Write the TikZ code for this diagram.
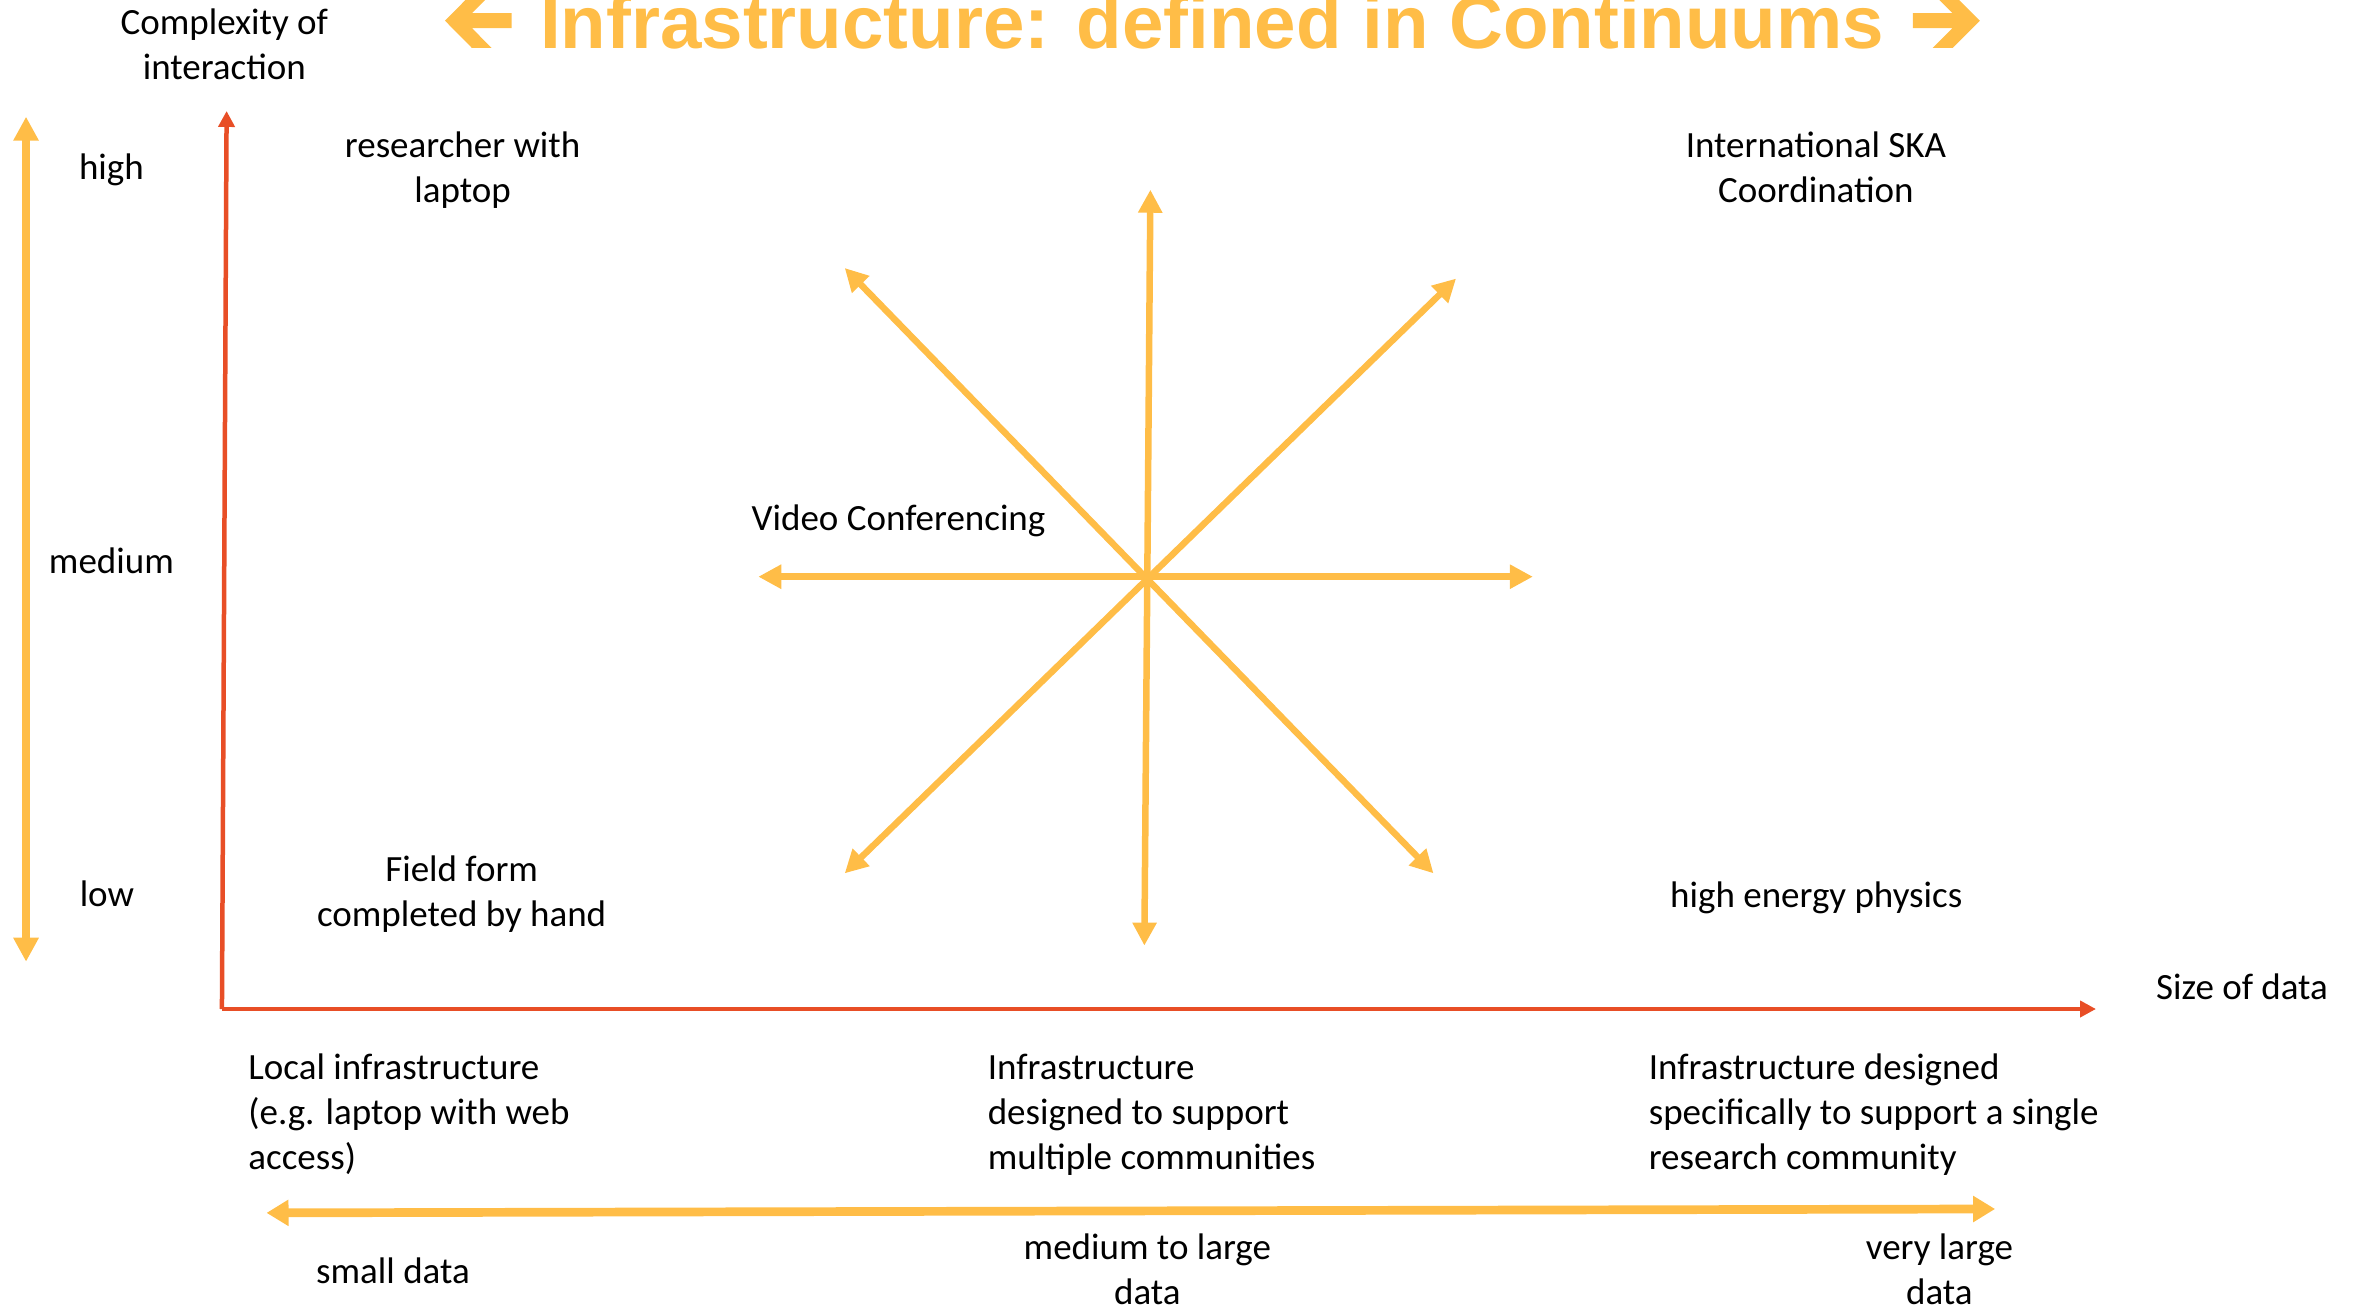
\documentclass[tikz,border=0pt]{standalone}
\usepackage{fontspec}
\setmainfont{Carlito}
\newfontfamily\titlefont{Liberation Sans}
\usetikzlibrary{arrows.meta}
\definecolor{gold}{RGB}{255,189,71}
\definecolor{axisred}{RGB}{232,78,38}
\begin{document}
\begin{tikzpicture}[x=1.5058pt,y=-1.5058pt,
  lbl/.style={inner sep=0pt, outer sep=0pt, font=\fontsize{37}{45}\selectfont, anchor=base},
  lblc/.style={lbl, align=center},
  lbll/.style={lbl, align=left, anchor=base west},
  starline/.style={draw=gold, line width=6.5pt, {Triangle[length=23pt,width=23pt]}-{Triangle[length=23pt,width=23pt]}},
  scalearrow/.style={draw=gold, line width=8pt, {Triangle[length=24pt,width=24pt]}-{Triangle[length=24pt,width=24pt]}},
  dataarrow/.style={draw=gold, line width=8.7pt, {Triangle[length=22pt,width=25pt]}-{Triangle[length=22pt,width=25pt]}},
  axis/.style={draw=axisred, line width=4.5pt, -{Triangle[length=16pt,width=16pt]}},
  titlearrow/.style={fill=gold, draw=none}]
\useasboundingbox (0,0) rectangle (1568,868);

% title
\node[inner sep=0pt, anchor=base, text=gold, font=\titlefont\bfseries\fontsize{74.5}{80}\selectfont] (title) at (805,31.9) {Infrastructure: defined in Continuums};
\begin{scope}[x=1pt,y=-1pt]
  \fill[titlearrow] (445,20.7) -- (472,-6.6) -- (491.7,-6.6) -- (472,13.2) -- (511.7,13.2) -- (511.7,28.2) -- (472,28.2) -- (491.7,48) -- (472,48) -- cycle;
  \fill[titlearrow] (1980,20.7) -- (1952.7,-6.6) -- (1932.7,-6.6) -- (1952.5,13.2) -- (1913,13.2) -- (1913,28.2) -- (1952.5,28.2) -- (1932.7,48) -- (1952.7,48) -- cycle;
\end{scope}

% y-axis label and scale
\node[lblc] (cplx) at (149,53.1) {Complexity of\\interaction};
\coordinate (sTop) at (17.3,77.5);
\coordinate (sBot) at (17.3,638.7);
\draw[scalearrow] (sBot) -- (sTop);
\node[lbl] (high) at (74,119.5) {high};
\node[lbl] (medium) at (74,381) {medium};
\node[lbl] (low) at (71,602.1) {low};

% axes
\coordinate (origin) at (147.4,670.1);
\coordinate (yTip) at (150.5,73.7);
\coordinate (xTip) at (1392,670.1);
\draw[axis] (origin) -- (yTip);
\draw[axis] (origin) -- (xTip);
\node[lbl, anchor=base west] (size) at (1432,663.8) {Size of data};

% corner examples
\node[lblc] (researcher) at (307.2,134.2) {researcher with\\laptop};
\node[lblc] (ska) at (1206,134.6) {International SKA\\Coordination};
\node[lblc] (field) at (306.6,615.6) {Field form\\completed by hand};
\node[lbl] (hep) at (1206.2,602.6) {high energy physics};
\node[lbl, anchor=base west] (video) at (499.2,352.4) {Video Conferencing};

% star
\coordinate (stU) at (764,126);
\coordinate (stD) at (760,628);
\coordinate (stL) at (503.6,383);
\coordinate (stR) at (1018,383);
\coordinate (stUL) at (561,178);
\coordinate (stLR) at (952,580);
\coordinate (stUR) at (967,185);
\coordinate (stLL) at (561,580);
\draw[starline] (stD) -- (stU);
\draw[starline] (stL) -- (stR);
\draw[starline] (stUL) -- (stLR);
\draw[starline] (stLL) -- (stUR);

% infrastructure descriptions
\node[lbll] (local) at (165,776.9) {Local infrastructure\\(e.g. laptop with web\\access)};
\node[lbll] (multi) at (656,776.9) {Infrastructure\\designed to support\\multiple communities};
\node[lbll] (single) at (1095,776.9) {Infrastructure designed\\specifically to support a single\\research community};

% data size scale
\coordinate (dL) at (177,805.5);
\coordinate (dR) at (1325,802.9);
\draw[dataarrow] (dL) -- (dR);
\node[lbl] (small) at (261,852.2) {small data};
\node[lblc] (medlarge) at (762,866.5) {medium to large\\data};
\node[lblc] (vlarge) at (1288,866.5) {very large\\data};
\end{tikzpicture}
\end{document}
